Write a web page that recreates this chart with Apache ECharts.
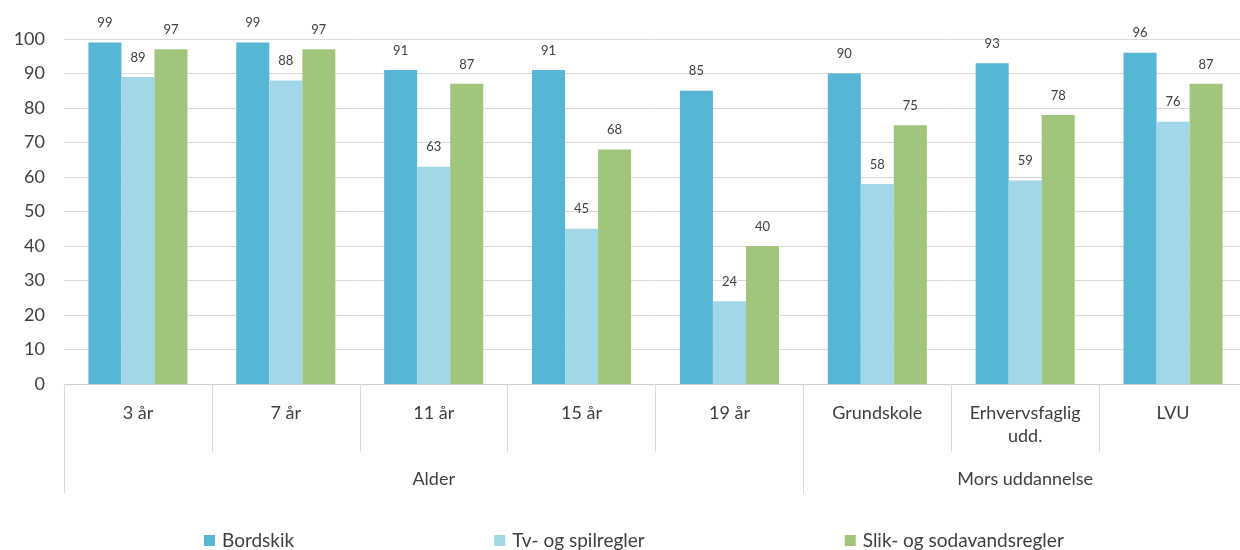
<!DOCTYPE html>
<html>
<head>
<meta charset="utf-8">
<script src="https://cdn.jsdelivr.net/npm/echarts@6/dist/echarts.min.js"></script>
<style>
html,body{margin:0;padding:0;background:#fff;}
#c{width:1240px;height:550px;}
</style>
</head>
<body>
<div id="c"></div>
<script>
const categories = ['3 år', '7 år', '11 år', '15 år', '19 år', 'Grundskole', 'Erhvervsfaglig\nudd.', 'LVU'];
const groupNames = ['Alder', 'Mors uddannelse'];
const groupSizes = [5, 3];
const seriesNames = ['Bordskik', 'Tv- og spilregler', 'Slik- og sodavandsregler'];
const bordskik = [99, 99, 91, 91, 85, 90, 93, 96];
const tvRegler = [89, 88, 63, 45, 24, 58, 59, 76];
const slikRegler = [97, 97, 87, 68, 40, 75, 78, 87];
const yTicks = [0, 10, 20, 30, 40, 50, 60, 70, 80, 90, 100];

const colors = ['#57B5D6', '#A1D7E8', '#A2C57D'];
const font = 'Lato, "Open Sans", sans-serif';
const txt = '#404040';

// group boundaries and centers on a 0..N value axis
const bounds = [0];
const centers = [];
groupSizes.forEach((s, i) => { centers.push(bounds[i] + s / 2); bounds.push(bounds[i] + s); });
const centerName = {};
centers.forEach((c, i) => { centerName[c] = groupNames[i]; });

const chart = echarts.init(document.getElementById('c'));
const seriesData = [bordskik, tvRegler, slikRegler];
chart.setOption({
  animation: false,
  textStyle: { fontFamily: font },
  grid: { left: 64, width: 1183, top: 39, height: 345, containLabel: false, outerBoundsMode: 'none' },
  legend: {
    left: 204, top: 531, padding: 0, itemGap: 200, itemWidth: 11, itemHeight: 11, icon: 'rect',
    textStyle: { fontFamily: font, fontSize: 19, color: txt, padding: [0, 0, 0, 2] },
    data: seriesNames
  },
  xAxis: [
    {
      type: 'category', data: categories, boundaryGap: true,
      axisLine: { show: true, lineStyle: { color: '#D0D0D0', width: 1 } },
      axisTick: { show: true, interval: 0, length: 68, lineStyle: { color: '#D9D9D9' } },
      axisLabel: { interval: 0, color: txt, fontSize: 18, fontFamily: font, margin: 18, lineHeight: 23, verticalAlign: 'top' },
      splitLine: { show: false }
    },
    {
      type: 'value', min: 0, max: categories.length, position: 'bottom',
      axisLine: { show: false },
      axisTick: { show: true, customValues: bounds, length: 109, lineStyle: { color: '#D9D9D9' } },
      axisLabel: {
        customValues: centers, color: txt, fontSize: 18, fontFamily: font, margin: 86, verticalAlign: 'top',
        formatter: v => centerName[v] || ''
      },
      splitLine: { show: false }
    }
  ],
  yAxis: {
    type: 'value', min: yTicks[0], max: yTicks[yTicks.length - 1], interval: yTicks[1] - yTicks[0],
    axisLine: { show: false }, axisTick: { show: false },
    axisLabel: { color: txt, fontSize: 18, fontFamily: font, margin: 19 },
    splitLine: { lineStyle: { color: '#D9D9D9', width: 1 } }
  },
  series: seriesNames.map((n, i) => ({
    name: n, type: 'bar', xAxisIndex: 0, data: seriesData[i],
    barGap: '0%', barCategoryGap: '33%',
    itemStyle: { color: colors[i] },
    label: { show: true, position: 'top', distance: 13, color: txt, fontSize: 13, fontFamily: font }
  }))
});
</script>
</body>
</html>
